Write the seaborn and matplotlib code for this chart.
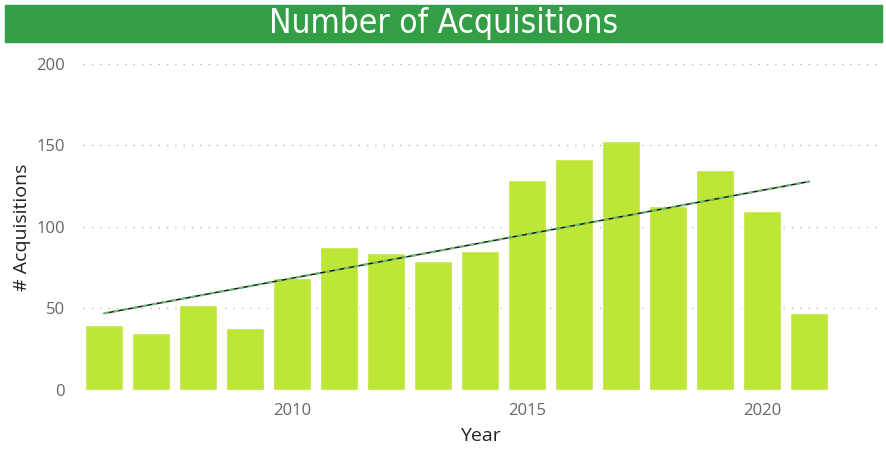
import numpy as np
import pandas as pd
import matplotlib
matplotlib.use("Agg")
import matplotlib.pyplot as plt
import seaborn as sns

# acquisitions per year
years = [2006, 2007, 2008, 2009, 2010, 2011, 2012, 2013,
         2014, 2015, 2016, 2017, 2018, 2019, 2020, 2021]
acquisitions = [40, 35, 52, 38, 69, 88, 84, 79,
                85, 129, 142, 153, 113, 135, 110, 47]
tick_years = [2010, 2015, 2020]

df = pd.DataFrame({"Year": years, "Acquisitions": acquisitions})
df["pos"] = np.arange(len(df))

sns.set_theme(style="white")
plt.rcParams['font.family'] = ['Open Sans', 'DejaVu Sans']

fig = plt.figure(figsize=(8.87, 4.49), dpi=100)
ax = fig.add_axes([0.0936, 0.1314, 0.8954, 0.7261])

sns.barplot(data=df, x="pos", y="Acquisitions", color="#BDE637",
            saturation=1, width=0.81, ax=ax)

# trend line (least squares over the yearly values)
sns.regplot(data=df, x="pos", y="Acquisitions", scatter=False, ci=None,
            color="#1a1a1a", line_kws={"lw": 1.1}, ax=ax)
sns.regplot(data=df, x="pos", y="Acquisitions", scatter=False, ci=None,
            color="#6CC070", line_kws={"lw": 1.6, "dashes": (2.2, 2.2)}, ax=ax)

ax.set_xlim(-0.447, 16.45)
ax.set_ylim(0, 200)
ax.set_yticks([0, 50, 100, 150, 200])
ax.set_xticks([years.index(y) for y in tick_years])
ax.set_xticklabels([str(y) for y in tick_years])
ax.yaxis.grid(True, linestyle=(0, (1, 5)), color="#b8b8b8", lw=1)
ax.set_axisbelow(True)
for s in ax.spines.values():
    s.set_visible(False)
ax.tick_params(axis="both", length=0, labelsize=12, labelcolor="#666666", pad=9)
ax.tick_params(axis="y", pad=13)

ax.set_xlabel("Year", fontsize=14, color="#222222", labelpad=6)
ax.set_ylabel("# Acquisitions", fontsize=14, color="#222222", labelpad=4)

# green title banner
fig.patches.append(plt.Rectangle((5 / 887, 1 - 42 / 449), 877 / 887, 37 / 449,
                                 transform=fig.transFigure, color="#339E45",
                                 zorder=0))
fig.text(0.5, 1 - 24 / 449, "Number of Acquisitions", ha="center", va="center",
         color="white", fontsize=24, fontstretch="condensed",
         family=['DejaVu Sans'])

fig.savefig("out.png", dpi=100)
